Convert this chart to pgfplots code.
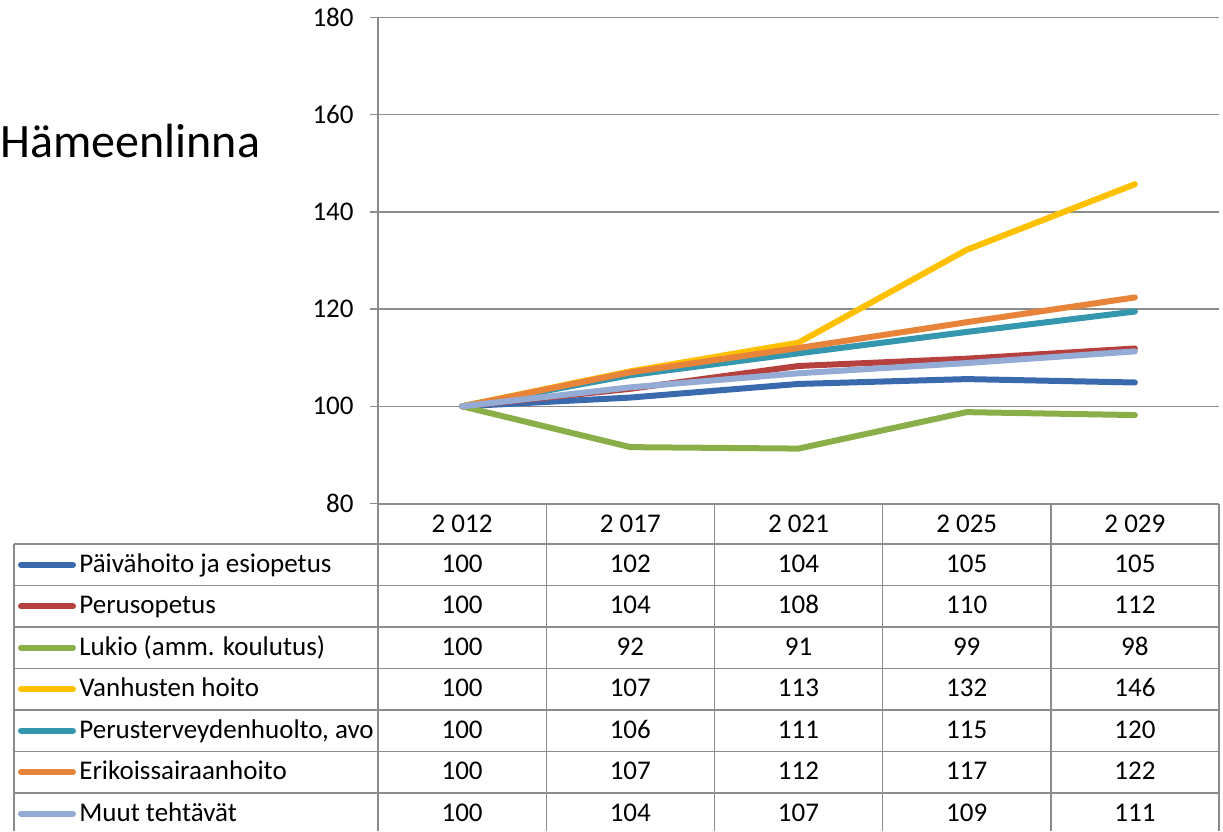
\documentclass[border=0pt]{standalone}
\usepackage{pgfplots}
\pgfplotsset{compat=1.18}
\usepackage{fontspec}
\setmainfont{Carlito}

\definecolor{cBlue}{HTML}{3A6AAE}
\definecolor{cRed}{HTML}{B5403D}
\definecolor{cGreen}{HTML}{8AAF48}
\definecolor{cYellow}{HTML}{FFC000}
\definecolor{cTeal}{HTML}{3497AE}
\definecolor{cOrange}{HTML}{E8843A}
\definecolor{cLav}{HTML}{94ABD6}
\definecolor{cGrid}{HTML}{8C8C8C}

\begin{document}
\begin{tikzpicture}
% pixel grid of the reference: 1px = 0.5pt, y downwards
\begin{scope}[x=0.5pt,y=-0.5pt]
\useasboundingbox (0,0) rectangle (1223,831);
\node[anchor=base west, inner sep=0pt, font=\fontsize{24}{28}\selectfont] at (0,157) {Hämeenlinna};
\end{scope}

\begin{axis}[
    at={(189pt,-251.75pt)}, anchor=south west,
    scale only axis, width=420.5pt, height=243pt,
    xmin=-0.5, xmax=4.5, ymin=80, ymax=180,
    axis x line=none, axis y line*=left,
    ytick={80,100,...,180},
    ymajorgrids, major grid style={cGrid, line width=0.7pt},
    axis line style={cGrid, line width=0.7pt},
    y axis line style={-},
    tick style={cGrid, line width=0.7pt},
    tick align=outside, major tick length=4pt,
    yticklabel style={font=\fontsize{13.5}{15}\selectfont, inner sep=0pt, xshift=-8pt},
    /pgf/number format/assume math mode=true,
    every axis plot/.append style={line width=3pt, line cap=round, line join=round},
    clip=false,
]
\addplot[cBlue]   coordinates {(0,100)(1,101.8)(2,104.6)(3,105.6)(4,104.9)};
\addplot[cRed]    coordinates {(0,100)(1,103.6)(2,108.3)(3,109.8)(4,111.9)};
\addplot[cGreen]  coordinates {(0,100)(1,91.6)(2,91.3)(3,98.8)(4,98.2)};
\addplot[cYellow] coordinates {(0,100)(1,107.2)(2,113.1)(3,132.2)(4,145.7)};
\addplot[cTeal]   coordinates {(0,100)(1,106.4)(2,110.9)(3,115.3)(4,119.5)};
\addplot[cOrange] coordinates {(0,100)(1,107.0)(2,112.0)(3,117.3)(4,122.4)};
\addplot[cLav]    coordinates {(0,100)(1,103.9)(2,106.8)(3,108.9)(4,111.3)};
\end{axis}

\begin{scope}[x=0.5pt,y=-0.5pt, every node/.style={inner sep=0pt, font=\fontsize{13.5}{15}\selectfont}]
% table grid
\draw[cGrid, line width=0.7pt] (378,504) -- (378,831);
\foreach \cx in {546.2,714.4,882.6,1050.8,1219} {
  \draw[cGrid, line width=0.7pt] (\cx,504) -- (\cx,831);
}
\draw[cGrid, line width=0.7pt] (14,544) -- (14,831);
\draw[cGrid, line width=0.7pt] (378,504) -- (1219,504);
\foreach \i in {0,...,6} {
  \draw[cGrid, line width=0.7pt] (14,544+41.5*\i) -- (1219,544+41.5*\i);
}
% header
\foreach \yr [count=\k from 0] in {2 012,2 017,2 021,2 025,2 029} {
  \node[anchor=base] at (462.1+168.2*\k,532) {\yr};
}
% rows
\foreach \nm/\col/\a/\b/\c/\d/\e [count=\r from 0] in {
  Päivähoito ja esiopetus/cBlue/100/102/104/105/105,
  Perusopetus/cRed/100/104/108/110/112,
  Lukio (amm. koulutus)/cGreen/100/92/91/99/98,
  Vanhusten hoito/cYellow/100/107/113/132/146,
  {Perusterveydenhuolto, avo}/cTeal/100/106/111/115/120,
  Erikoissairaanhoito/cOrange/100/107/112/117/122,
  Muut tehtävät/cLav/100/104/107/109/111} {
  \pgfmathsetmacro{\ym}{564.75+41.5*\r}
  \draw[\col, line width=3pt, line cap=round] (21,\ym) -- (73,\ym);
  \node[anchor=base west] at (79,\ym+7.5) {\nm};
  \node[anchor=base] at (462.1,\ym+7.5) {\a};
  \node[anchor=base] at (630.3,\ym+7.5) {\b};
  \node[anchor=base] at (798.5,\ym+7.5) {\c};
  \node[anchor=base] at (966.7,\ym+7.5) {\d};
  \node[anchor=base] at (1134.9,\ym+7.5) {\e};
}
\end{scope}
\end{tikzpicture}
\end{document}
